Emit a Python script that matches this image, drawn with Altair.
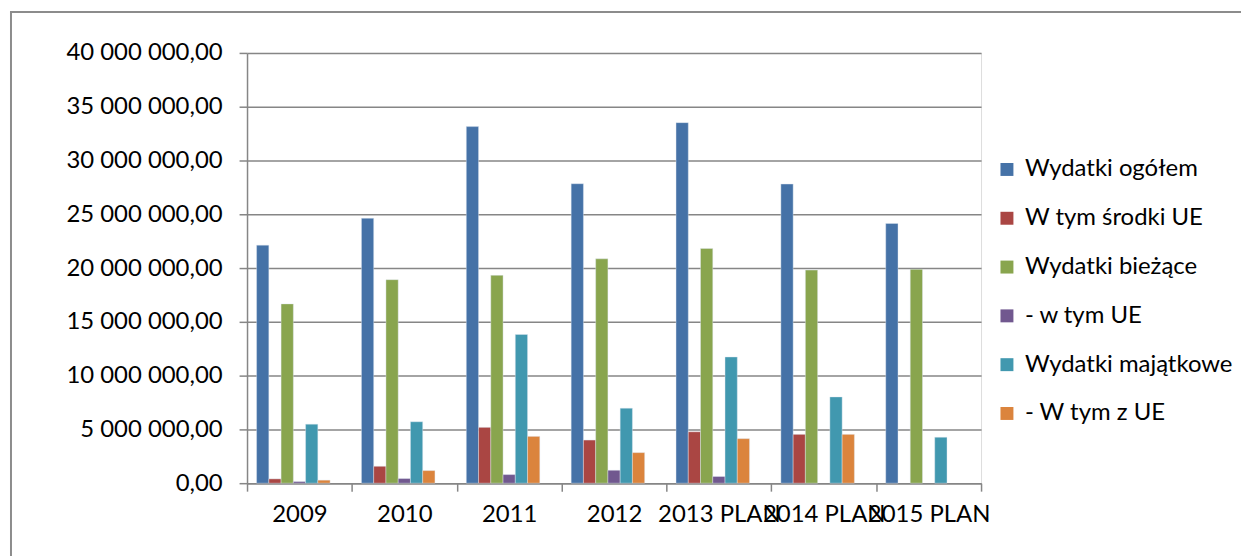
import altair as alt
import pandas as pd

categories = ["2009", "2010", "2011", "2012", "2013 PLAN", "2014 PLAN", "2015 PLAN"]
series = ["Wydatki ogółem", "W tym środki UE", "Wydatki bieżące", "- w tym UE",
          "Wydatki majątkowe", "- W tym z UE"]
colors = ["#4572A7", "#AA4643", "#89A54E", "#71588F", "#4198AF", "#DB843D"]

wydatki_ogolem = [22130000, 24630000, 33150000, 27840000, 33520000, 27810000, 24140000]
w_tym_srodki_ue = [400000, 1570000, 5190000, 4010000, 4780000, 4540000, None]
wydatki_biezace = [16670000, 18920000, 19320000, 20860000, 21820000, 19810000, 19880000]
w_tym_ue = [150000, 430000, 800000, 1200000, 620000, None, None]
wydatki_majatkowe = [5490000, 5710000, 13820000, 6970000, 11730000, 8020000, 4270000]
w_tym_z_ue = [280000, 1170000, 4350000, 2840000, 4140000, 4540000, None]

values = [wydatki_ogolem, w_tym_srodki_ue, wydatki_biezace, w_tym_ue,
          wydatki_majatkowe, w_tym_z_ue]

rows = []
for s, vals in zip(series, values):
    for c, v in zip(categories, vals):
        if v is not None:
            rows.append({"kategoria": c, "seria": s, "wartosc": v})
df = pd.DataFrame(rows)

FONT = "Lato"
FS = 24
W, H = 737, 432
PAD_L, PAD_T = 240, 44

bars = alt.Chart(df).mark_bar(stroke="#dfe7f0", strokeWidth=0.6, strokeOpacity=0.7).encode(
    x=alt.X("kategoria:N", sort=categories,
            scale=alt.Scale(domain=categories, paddingInner=0, paddingOuter=0),
            axis=alt.Axis(title=None, labelAngle=0, tickBand="extent", tickSize=8,
                          labelPadding=11, domainColor="#868686", tickColor="#868686",
                          domainWidth=1.5, tickWidth=1.5, labelFont=FONT, labelFontSize=FS,
                          labelColor="#000000", grid=False, labelLimit=0)),
    xOffset=alt.XOffset("seria:N",
                        scale=alt.Scale(domain=series + [" "], paddingInner=0, paddingOuter=0.78)),
    y=alt.Y("wartosc:Q",
            scale=alt.Scale(domain=[0, 40000000], nice=False),
            axis=alt.Axis(title=None, values=list(range(0, 40000001, 5000000)),
                          labelExpr="replace(replace(format(datum.value, ',.2f'), regexp(',', 'g'), ' '), '.', ',')",
                          tickSize=8, labelPadding=17, domainColor="#868686", tickColor="#868686",
                          domainWidth=1.5, tickWidth=1.5, gridColor="#868686", gridWidth=1.5,
                          labelFont=FONT, labelFontSize=FS, labelColor="#000000", labelLimit=0)),
    color=alt.Color("seria:N", sort=series,
                    scale=alt.Scale(domain=series, range=colors),
                    legend=alt.Legend(title=None, orient="none", legendX=751, legendY=105,
                                      symbolType="square", symbolSize=169, symbolStrokeWidth=0,
                                      labelFont=FONT, labelFontSize=FS, labelColor="#000000",
                                      labelOffset=6, rowPadding=25, padding=0, labelLimit=0)),
)

frame_df = pd.DataFrame({"f": [1]})
frame_left = alt.Chart(frame_df).mark_rule(stroke="#8c8c8c", strokeWidth=2).encode(
    x=alt.value(-237), y=alt.value(-41), y2=alt.value(520)
)
frame_top = alt.Chart(frame_df).mark_rule(stroke="#8c8c8c", strokeWidth=2).encode(
    x=alt.value(-238), x2=alt.value(1000), y=alt.value(-41)
)

chart = alt.layer(frame_left, frame_top, bars).properties(
    width=W, height=H,
    autosize=alt.AutoSizeParams(type="none"),
    padding={"left": PAD_L, "top": PAD_T, "right": 1238 - PAD_L - W, "bottom": 548 - PAD_T - H},
).configure_view(stroke=None).configure(background="#ffffff")

chart.save("out.html", embed_options={"renderer": "svg", "actions": False})
